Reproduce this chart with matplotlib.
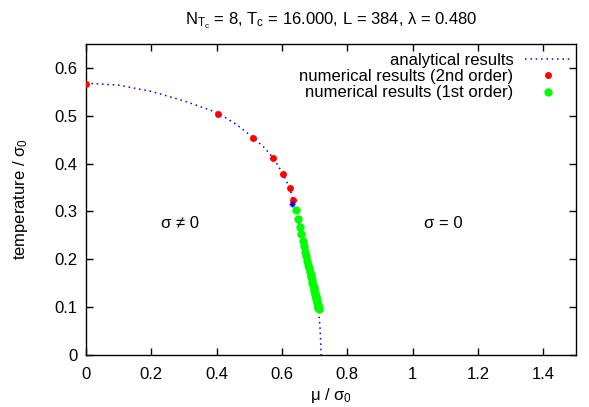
import matplotlib
matplotlib.use('Agg')
import matplotlib.pyplot as plt

plt.rcParams['font.family'] = ['Liberation Sans', 'DejaVu Sans']
plt.rcParams['mathtext.fontset'] = 'custom'
plt.rcParams['mathtext.rm'] = 'Liberation Sans'
plt.rcParams['mathtext.it'] = 'Liberation Sans'
plt.rcParams['mathtext.bf'] = 'Liberation Sans:bold'

# analytical phase boundary
mu_ana = [0.000, 0.100, 0.200, 0.300, 0.355, 0.404, 0.460, 0.511, 0.545, 0.571,
          0.588, 0.602, 0.613, 0.623, 0.629, 0.633, 0.634, 0.642, 0.660, 0.677,
          0.694, 0.712, 0.717, 0.720]
T_ana = [0.568, 0.564, 0.551, 0.531, 0.518, 0.506, 0.482, 0.455, 0.434, 0.414,
         0.396, 0.379, 0.364, 0.350, 0.337, 0.325, 0.316, 0.303, 0.250, 0.200,
         0.150, 0.097, 0.050, 0.000]

# numerical, 2nd order
mu_2nd = [0.000, 0.404, 0.511, 0.571, 0.602, 0.623, 0.633]
T_2nd = [0.567, 0.504, 0.454, 0.412, 0.378, 0.349, 0.324]

# numerical, 1st order
mu_1st = [0.642, 0.649, 0.654, 0.659, 0.664, 0.668, 0.671, 0.675, 0.678, 0.681,
          0.683, 0.686, 0.688, 0.690, 0.692, 0.693, 0.695, 0.697, 0.698, 0.699,
          0.701, 0.702, 0.703, 0.704, 0.705, 0.706, 0.707, 0.708, 0.709, 0.710,
          0.710, 0.711, 0.712]
T_1st = [0.3024, 0.2835, 0.2668, 0.2520, 0.2387, 0.2268, 0.2160, 0.2062, 0.1972, 0.1890,
         0.1814, 0.1745, 0.1680, 0.1620, 0.1564, 0.1512, 0.1463, 0.1418, 0.1375, 0.1334,
         0.1296, 0.1260, 0.1226, 0.1194, 0.1163, 0.1134, 0.1106, 0.1080, 0.1055, 0.1031,
         0.1008, 0.0986, 0.0965]

# tricritical point
mu_tcp = [0.631]
T_tcp = [0.316]

fig = plt.figure(figsize=(5.89, 4.07), dpi=100)
ax = fig.add_axes([86/589, 1 - 355/407, 490/589, 311/407])

ax.plot(mu_ana, T_ana, color='#0000ff', linestyle=(0, (1, 2.5)), linewidth=1.1,
        label='analytical results')
ax.plot(mu_2nd, T_2nd, 'o', color='#ff0000', markersize=5, markeredgewidth=0,
        label='numerical results (2nd order)', zorder=3)
ax.plot(mu_1st, T_1st, 'o', color='#00ff00', markersize=6, markeredgewidth=0,
        label='numerical results (1st order)', zorder=3)
ax.plot(mu_tcp, T_tcp, marker='x', color='#0000ff', markersize=3.5, markeredgewidth=1,
        linestyle='none', zorder=4)
ax.plot(mu_tcp, T_tcp, marker='+', color='#0000ff', markersize=4, markeredgewidth=1,
        linestyle='none', zorder=4)

ax.text(0.288, 0.274, 'σ ≠ 0', ha='center', va='center', fontsize=12)
ax.text(1.093, 0.274, 'σ = 0', ha='center', va='center', fontsize=12)

ax.set_xlim(0, 1.5)
ax.set_ylim(0, 0.65)
ax.set_xticks([0, 0.2, 0.4, 0.6, 0.8, 1.0, 1.2, 1.4])
ax.set_xticklabels(['0', '0.2', '0.4', '0.6', '0.8', '1', '1.2', '1.4'])
ax.set_yticks([0, 0.1, 0.2, 0.3, 0.4, 0.5, 0.6])
ax.set_yticklabels(['0', '0.1', '0.2', '0.3', '0.4', '0.5', '0.6'])
ax.tick_params(direction='in', length=5, width=1, top=True, right=True, labelsize=12)
ax.tick_params(axis='x', pad=8.5)
ax.tick_params(axis='y', pad=6)
for s in ax.spines.values():
    s.set_linewidth(1.0)

ax.set_xlabel('μ / σ$_0$', fontsize=12, labelpad=3)
ax.set_ylabel('temperature / σ$_0$', fontsize=12, labelpad=18)
ax.set_title('N$_{T_c}$ = 8, T$_c$ = 16.000, L = 384, λ = 0.480', fontsize=12, pad=14)

leg = ax.legend(loc='upper right', bbox_to_anchor=(0.988, 0.972), frameon=False,
                markerfirst=False, fontsize=12, handlelength=2.7, handletextpad=0.7,
                labelspacing=0.08, borderpad=0, borderaxespad=0, numpoints=1)

fig.savefig('out.png', dpi=100)
